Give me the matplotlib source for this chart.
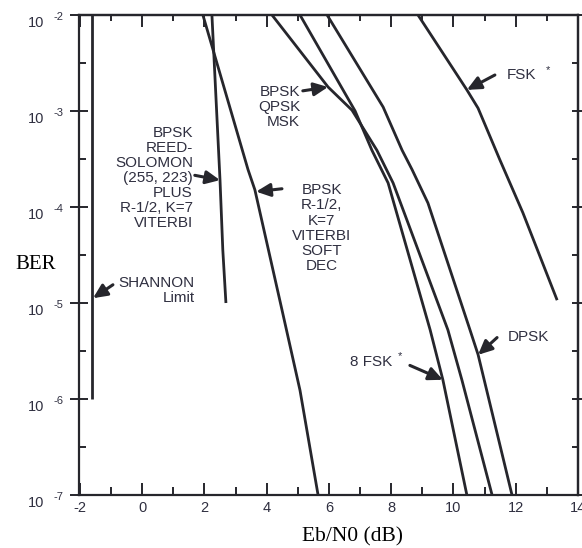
import matplotlib
matplotlib.use("Agg")
import matplotlib.pyplot as plt
from matplotlib.ticker import FixedLocator, NullFormatter

# ---- curve data: Eb/N0 (dB) versus bit error rate ----
shannon_ebn0 = [-1.6, -1.6]
shannon_ber = [1e-2, 1e-6]

rs_ebn0 = [2.24, 2.50, 2.59, 2.69]
rs_ber = [1e-2, 1.9e-4, 3.55e-5, 1e-5]

vit_ebn0 = [1.95, 3.40, 3.62, 4.49, 5.07, 5.65]
vit_ber = [1e-2, 2.45e-4, 1.51e-4, 8.5e-6, 1.23e-6, 1e-7]

bpsk_ebn0 = [4.17, 5.97, 6.74, 7.54, 8.06, 9.82, 10.27, 11.24]
bpsk_ber = [1e-2, 1.78e-3, 1.02e-3, 3.9e-4, 1.78e-4, 5.25e-6, 1.58e-6, 1e-7]

fsk8_ebn0 = [5.07, 6.84, 7.38, 7.90, 9.25, 9.66, 10.43]
fsk8_ber = [1e-2, 1e-3, 3.9e-4, 1.78e-4, 5.25e-6, 1.58e-6, 1e-7]

dpsk_ebn0 = [5.94, 7.74, 8.35, 8.67, 9.18, 10.53, 10.79, 11.88]
dpsk_ber = [1e-2, 1.1e-3, 3.9e-4, 2.45e-4, 1.1e-4, 5.25e-6, 2.9e-6, 1e-7]

fsk_ebn0 = [8.86, 10.43, 10.79, 11.49, 12.23, 13.33]
fsk_ber = [1e-2, 1.66e-3, 1.07e-3, 3.1e-4, 8.7e-5, 1.07e-5]

x_ticks = [-2, 0, 2, 4, 6, 8, 10, 12, 14]
x_tick_labels = ["-2", "0", "2", "4", "6", "8", "10", "12", "14"]
x_minor = [-1, 1, 3, 5, 7, 9, 11, 13]
y_exponents = [-2, -3, -4, -5, -6, -7]

LINE = "#26262c"
TXT = "#2f2f40"
SANS = "Liberation Sans"
SERIF = "Liberation Serif"

plt.rcParams["font.family"] = SANS
plt.rcParams["axes.unicode_minus"] = False

fig = plt.figure(figsize=(5.82, 5.48), dpi=100)
ax = fig.add_axes([79 / 582, 53 / 548, 499 / 582, 480 / 548])
ax.set_yscale("log")
ax.set_xlim(-2.03, 14)
ax.set_ylim(1e-7, 1e-2)

curve_kw = dict(color=LINE, lw=2.0, solid_joinstyle="round", solid_capstyle="butt")
ax.plot(shannon_ebn0, shannon_ber, **curve_kw)
ax.plot(rs_ebn0, rs_ber, **curve_kw)
ax.plot(vit_ebn0, vit_ber, **curve_kw)
ax.plot(bpsk_ebn0, bpsk_ber, **curve_kw)
ax.plot(fsk8_ebn0, fsk8_ber, **curve_kw)
ax.plot(dpsk_ebn0, dpsk_ber, **curve_kw)
ax.plot(fsk_ebn0, fsk_ber, **curve_kw)

for s in ax.spines.values():
    s.set_linewidth(1.6)
    s.set_color(LINE)

# bottom / left ticks
y_major = [10.0 ** e for e in y_exponents]
y_minor = [10.0 ** (e - 0.5) for e in y_exponents[:-1]]
ax.xaxis.set_major_locator(FixedLocator(x_ticks))
ax.set_xticklabels(x_tick_labels)
ax.xaxis.set_minor_locator(FixedLocator(x_minor))
ax.yaxis.set_major_locator(FixedLocator(y_major))
ax.yaxis.set_minor_locator(FixedLocator(y_minor))
ax.yaxis.set_major_formatter(NullFormatter())
ax.yaxis.set_minor_formatter(NullFormatter())
ax.tick_params(axis="x", which="major", direction="in", length=8.5, width=1.4,
               color=LINE, labelsize=10.5, labelcolor=TXT, pad=4)
ax.tick_params(axis="x", which="minor", direction="in", length=5.5, width=1.4, color=LINE)
ax.tick_params(axis="y", which="major", direction="inout", length=13, width=1.4, color=LINE)
ax.tick_params(axis="y", which="minor", direction="in", length=5, width=1.4, color=LINE)

# top / right ticks
top = ax.secondary_xaxis("top")
top.xaxis.set_major_locator(FixedLocator(x_ticks))
top.xaxis.set_minor_locator(FixedLocator(x_minor))
top.xaxis.set_major_formatter(NullFormatter())
top.tick_params(axis="x", which="major", direction="in", length=8.5, width=1.4, color=LINE)
top.tick_params(axis="x", which="minor", direction="in", length=4.5, width=1.4, color=LINE)
top.spines["top"].set_linewidth(1.6)
top.spines["top"].set_color(LINE)

right = ax.secondary_yaxis("right")
right.yaxis.set_major_locator(FixedLocator(y_major))
right.yaxis.set_minor_locator(FixedLocator(y_minor))
right.yaxis.set_major_formatter(NullFormatter())
right.yaxis.set_minor_formatter(NullFormatter())
right.tick_params(axis="y", which="major", direction="inout", length=8, width=1.4, color=LINE)
right.tick_params(axis="y", which="minor", direction="in", length=4, width=1.4, color=LINE)
right.spines["right"].set_linewidth(1.6)
right.spines["right"].set_color(LINE)

# power-of-ten labels on the BER axis
for e in y_exponents:
    ax.annotate("10", xy=(0, 10.0 ** e), xycoords=("axes fraction", "data"),
                xytext=(-35, -8.5), textcoords="offset pixels",
                ha="right", va="center", fontsize=10.5, color=TXT)
    ax.annotate(str(e), xy=(0, 10.0 ** e), xycoords=("axes fraction", "data"),
                xytext=(-26, -2.5), textcoords="offset pixels",
                ha="left", va="center", fontsize=8, color=TXT)

fig.text(36 / 582, 1 - 265 / 548, "BER", family=SERIF, fontsize=15,
         ha="center", va="center", color="black")
fig.text(352 / 582, 1 - 537 / 548, "Eb/N0 (dB)", family=SERIF, fontsize=15.5,
         ha="center", va="center", color="black")

# curve labels and pointers
lab_kw = dict(fontsize=11, color=TXT, linespacing=1.1)
arrow_kw = dict(arrowstyle="-|>,head_length=0.6,head_width=0.28", color=LINE,
                lw=2.2, shrinkA=0, shrinkB=0, mutation_scale=14)


def pointer(head, tail):
    ax.annotate("", xy=head, xytext=tail, arrowprops=arrow_kw)


ax.text(5.07, 10 ** -2.96, "BPSK\nQPSK\nMSK", ha="right", va="center",
        multialignment="right", **lab_kw)
pointer((5.97, 10 ** -2.75), (5.16, 10 ** -2.79))

ax.text(1.63, 10 ** -3.70, "BPSK\nREED-\nSOLOMON\n(255, 223)\nPLUS\nR-1/2, K=7\nVITERBI",
        ha="right", va="center", multialignment="right", **lab_kw)
pointer((2.50, 10 ** -3.72), (1.69, 10 ** -3.67))

ax.text(1.69, 10 ** -4.87, "SHANNON\nLimit", ha="right", va="center",
        multialignment="right", **lab_kw)
pointer((-1.58, 10 ** -4.95), (-0.94, 10 ** -4.81))

ax.text(5.77, 10 ** -4.22, "BPSK\nR-1/2,\nK=7\nVITERBI\nSOFT\nDEC", ha="center",
        va="center", multialignment="center", **lab_kw)
pointer((3.66, 10 ** -3.84), (4.49, 10 ** -3.81))

ax.text(6.67, 10 ** -5.61, "8 FSK", ha="left", va="center", **lab_kw)
ax.text(8.28, 10 ** -5.55, "*", ha="center", va="center", fontsize=8, color=TXT)
pointer((9.66, 10 ** -5.80), (8.60, 10 ** -5.65))

ax.text(11.75, 10 ** -5.35, "DPSK", ha="left", va="center", **lab_kw)
pointer((10.79, 10 ** -5.54), (11.40, 10 ** -5.36))

ax.text(11.72, 10 ** -2.625, "FSK", ha="left", va="center", **lab_kw)
ax.text(13.04, 10 ** -2.57, "*", ha="center", va="center", fontsize=8, color=TXT)
pointer((10.43, 10 ** -2.78), (11.33, 10 ** -2.625))

fig.savefig("out.png", dpi=100, facecolor="white")
